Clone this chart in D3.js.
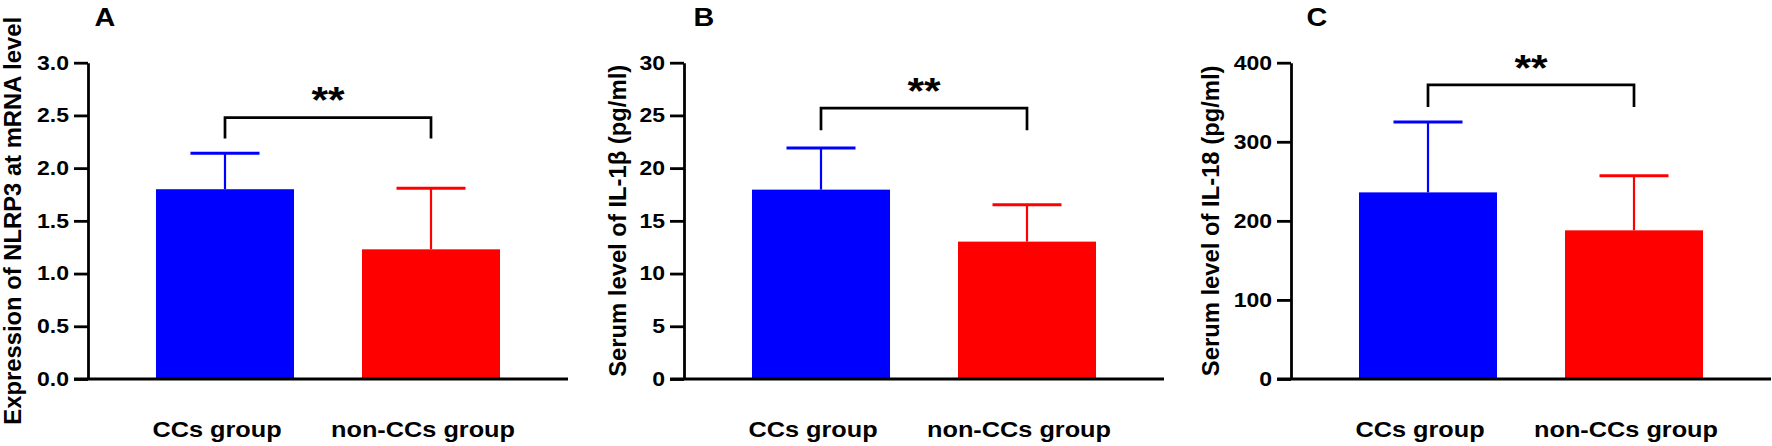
<!DOCTYPE html>
<html>
<head>
<meta charset="utf-8">
<script src="https://cdn.jsdelivr.net/npm/d3@7"></script>
<style>
  body { margin: 0; background: #fff; }
  svg { display: block; font-family: "Liberation Sans", Arial, sans-serif; }
</style>
</head>
<body>
<svg id="chart" width="1772" height="446"></svg>
<script>
// values
const categories = ["CCs group", "non-CCs group"];
const panelLetters = ["A", "B", "C"];
const yTitles = ["Expression of NLRP3 at mRNA level", "Serum level of IL-1β (pg/ml)", "Serum level of IL-18 (pg/ml)"];
const yMax = [3.0, 30, 400];
const yStep = [0.5, 5, 100];
const yFormat = [".1f", "d", "d"];
const meanNLRP3 = [1.80, 1.23];
const sdNLRP3 = [0.34, 0.58];
const meanIL1b = [17.96, 13.03];
const sdIL1b = [3.95, 3.5];
const meanIL18 = [236, 188];
const sdIL18 = [89, 69];
const bracketTop = [2.48, 25.7, 372];
const bracketLeg = [2.28, 23.6, 344];
const starLevel = [2.73, 28.1, 404];
const barColors = ["#0000ff", "#ff0000"];

const means = [meanNLRP3, meanIL1b, meanIL18];
const sds = [sdNLRP3, sdIL1b, sdIL18];

// layout
const axisX = [88, 684, 1291];
const axisW = 480;
const titleX = [21, 626, 1219];
const letterX = [105, 704, 1317];
const plotTop = 62.7, plotBottom = 379;
const SX = 1.15; // the figure's text is a bit wide

const svg = d3.select("#chart");

panelLetters.forEach((letter, p) => {
  const g = svg.append("g");
  const x = d3.scaleBand().domain(categories)
      .range([axisX[p], axisX[p] + axisW])
      .paddingInner(0.33).paddingOuter(0.33);
  const y = d3.scaleLinear().domain([0, yMax[p]]).range([plotBottom, plotTop]);

  // bars
  const rows = categories.map((c, i) => ({ c, m: means[p][i], sd: sds[p][i], col: barColors[i] }));
  g.selectAll(".bar").data(rows).enter().append("rect")
      .attr("x", d => x(d.c))
      .attr("y", d => y(d.m))
      .attr("width", x.bandwidth())
      .attr("height", d => y(0) - y(d.m))
      .attr("fill", d => d.col);

  // error bars (upper only)
  const cap = x.bandwidth() * 0.5;
  g.selectAll(".err").data(rows).enter().append("line")
      .attr("x1", d => x(d.c) + x.bandwidth() / 2)
      .attr("x2", d => x(d.c) + x.bandwidth() / 2)
      .attr("y1", d => y(d.m))
      .attr("y2", d => y(d.m + d.sd))
      .attr("stroke", d => d.col).attr("stroke-width", 2.2);
  g.selectAll(".cap").data(rows).enter().append("line")
      .attr("x1", d => x(d.c) + x.bandwidth() / 2 - cap / 2)
      .attr("x2", d => x(d.c) + x.bandwidth() / 2 + cap / 2)
      .attr("y1", d => y(d.m + d.sd))
      .attr("y2", d => y(d.m + d.sd))
      .attr("stroke", d => d.col).attr("stroke-width", 3);

  // y axis
  const ticks = d3.range(0, yMax[p] + yStep[p] / 2, yStep[p]);
  const ya = g.append("g")
      .attr("transform", `translate(${axisX[p]},0)`)
      .call(d3.axisLeft(y).tickValues(ticks).tickFormat(d3.format(yFormat[p]))
        .tickSize(14).tickSizeOuter(0).tickPadding(5));
  ya.select(".domain").attr("stroke", "#000").attr("stroke-width", 2.8);
  ya.selectAll(".tick line").attr("stroke", "#000").attr("stroke-width", 2.8);
  ya.selectAll(".tick text")
      .attr("font-size", 20).attr("font-weight", "bold").attr("fill", "#000")
      .attr("font-family", "Liberation Sans, Arial, sans-serif")
      .attr("x", -19 / SX).attr("transform", `scale(${SX},1)`);

  // x axis line
  g.append("line")
      .attr("x1", axisX[p] - 14).attr("x2", axisX[p] + axisW)
      .attr("y1", y(0)).attr("y2", y(0))
      .attr("stroke", "#000").attr("stroke-width", 2.8);

  // category labels
  categories.forEach(c => {
    g.append("text")
        .attr("transform", `translate(${x(c) + x.bandwidth() / 2 - 8},437) scale(${SX},1)`)
        .attr("text-anchor", "middle")
        .attr("font-size", 22).attr("font-weight", "bold")
        .text(c);
  });

  // y title
  g.append("text")
      .attr("transform", `translate(${titleX[p]},${(plotTop + plotBottom) / 2}) rotate(-90)`)
      .attr("text-anchor", "middle")
      .attr("font-size", 23.8).attr("font-weight", "bold")
      .text(yTitles[p]);

  // panel letter
  g.append("text")
      .attr("transform", `translate(${letterX[p]},26) scale(${SX},1)`)
      .attr("text-anchor", "middle")
      .attr("font-size", 25).attr("font-weight", "bold")
      .text(letter);

  // significance bracket
  const x1 = x(categories[0]) + x.bandwidth() / 2;
  const x2 = x(categories[1]) + x.bandwidth() / 2;
  g.append("path")
      .attr("d", d3.line()([[x1, y(bracketLeg[p])], [x1, y(bracketTop[p])], [x2, y(bracketTop[p])], [x2, y(bracketLeg[p])]]))
      .attr("fill", "none").attr("stroke", "#000").attr("stroke-width", 2.7);
  g.append("text")
      .attr("transform", `translate(${(x1 + x2) / 2},${y(starLevel[p])}) scale(${SX},1)`)
      .attr("dy", "0.58em")
      .attr("text-anchor", "middle")
      .attr("font-size", 37).attr("font-weight", "bold")
      .text("**");
});
</script>
</body>
</html>
